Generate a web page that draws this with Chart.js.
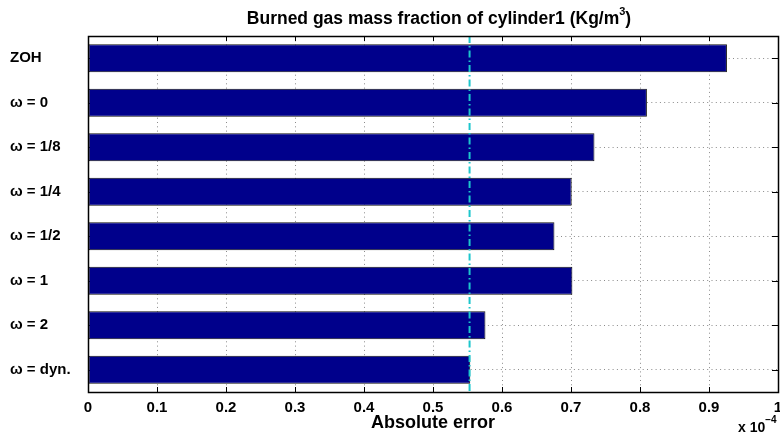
<!DOCTYPE html>
<html>
<head>
<meta charset="utf-8">
<script src="https://cdn.jsdelivr.net/npm/chart.js@4.4.0/dist/chart.umd.min.js"></script>
<style>
  html, body { margin: 0; padding: 0; background: #fff; }
</style>
</head>
<body>
<canvas id="barChart" width="780" height="437"></canvas>
<script>
// Absolute error per interpolation weight (values in units of 1e-4)
const categories = ["ZOH", "ω = 0", "ω = 1/8", "ω = 1/4", "ω = 1/2", "ω = 1", "ω = 2", "ω = dyn."];
const absError = [0.926, 0.810, 0.734, 0.701, 0.676, 0.702, 0.576, 0.554];
const refLine = 0.553;   // dash-dot reference line
const xMin = 0, xMax = 1, xStep = 0.1;

const FONT = "'Liberation Sans', Arial, sans-serif";

// grid, frame, inward ticks, reference line and extra texts, MATLAB style
const matlabAxes = {
  id: "matlabAxes",
  beforeDatasetsDraw(chart) {
    const { ctx, chartArea: a, scales: { x, y } } = chart;
    ctx.save();
    ctx.strokeStyle = "#000";
    ctx.lineWidth = 1;
    ctx.beginPath();
    x.ticks.forEach(t => {
      const px = Math.round(x.getPixelForValue(t.value)) + 0.5;
      ctx.moveTo(px, a.bottom); ctx.lineTo(px, a.bottom - 5);
      ctx.moveTo(px, a.top); ctx.lineTo(px, a.top + 5);
    });
    categories.forEach((c, i) => {
      const py = Math.round(y.getPixelForValue(i)) + 0.5;
      ctx.moveTo(a.right, py); ctx.lineTo(a.right - 6, py);
      ctx.moveTo(a.left, py); ctx.lineTo(a.left + 6, py);
    });
    ctx.stroke();
    ctx.restore();
  },
  afterDatasetsDraw(chart) {
    const { ctx, chartArea: a, scales: { x } } = chart;
    ctx.save();
    // reference line
    const rx = x.getPixelForValue(refLine);
    ctx.strokeStyle = "#1CC6CC";
    ctx.lineWidth = 2;
    ctx.setLineDash([7, 3, 1.5, 3]);
    ctx.beginPath();
    ctx.moveTo(rx, a.top); ctx.lineTo(rx, a.bottom);
    ctx.stroke();
    ctx.setLineDash([]);
    // frame
    ctx.strokeStyle = "#000";
    ctx.lineWidth = 1.5;
    ctx.strokeRect(Math.round(a.left) + 0.5, Math.round(a.top) + 0.5,
      Math.round(a.right - a.left), Math.round(a.bottom - a.top));
    // title
    ctx.fillStyle = "#000";
    ctx.textBaseline = "alphabetic";
    const main = "Burned gas mass fraction of cylinder1 (Kg/m";
    ctx.font = "bold 17.5px " + FONT;
    const w1 = ctx.measureText(main).width;
    ctx.font = "bold 11px " + FONT;
    const w2 = ctx.measureText("3").width;
    ctx.font = "bold 17.5px " + FONT;
    const w3 = ctx.measureText(")").width;
    let tx = (a.left + a.right) / 2 + 6 - (w1 + w2 + w3) / 2;
    ctx.textAlign = "left";
    ctx.fillText(main, tx, 24);
    ctx.font = "bold 11px " + FONT;
    ctx.fillText("3", tx + w1, 15);
    ctx.font = "bold 17.5px " + FONT;
    ctx.fillText(")", tx + w1 + w2, 24);
    // exponent label
    ctx.font = "bold 14px " + FONT;
    const ex = "x 10";
    const we = ctx.measureText(ex).width;
    ctx.fillText(ex, 738, 432);
    ctx.font = "bold 10px " + FONT;
    ctx.fillText("\u22124", 738 + we, 423);
    ctx.restore();
  }
};

new Chart(document.getElementById("barChart").getContext("2d"), {
  type: "bar",
  data: {
    labels: categories,
    datasets: [{
      data: absError,
      backgroundColor: "#00008B",
      borderColor: "#111",
      borderWidth: 1,
      borderSkipped: false,
      barPercentage: 0.63,
      categoryPercentage: 1
    }]
  },
  options: {
    indexAxis: "y",
    responsive: false,
    animation: false,
    devicePixelRatio: 1,
    layout: { padding: { left: 10, top: 36, right: 2, bottom: 0 } },
    plugins: {
      legend: { display: false },
      tooltip: { enabled: false },
      title: { display: false }
    },
    scales: {
      x: {
        min: xMin,
        max: xMax,
        afterFit: s => { s.height = 45; s.paddingLeft = 0; s.paddingRight = 0; },
        ticks: {
          stepSize: xStep,
          color: "#000",
          padding: 7,
          maxRotation: 0,
          font: { family: FONT, size: 15, weight: "bold" },
          callback: v => String(+v.toFixed(1))
        },
        grid: { color: "#8a8a8a", drawTicks: false, lineWidth: 1 },
        border: { display: false, dash: [1, 3.3] },
        title: {
          display: true,
          text: "Absolute error",
          color: "#000",
          padding: { top: 0, bottom: 3 },
          font: { family: FONT, size: 18, weight: "bold" }
        }
      },
      y: {
        afterFit: s => { s.width = 78; },
        ticks: {
          color: "#000",
          crossAlign: "far",
          font: { family: FONT, size: 15, weight: "bold" }
        },
        grid: { color: "#8a8a8a", drawTicks: false, offset: false, lineWidth: 1 },
        border: { display: false, dash: [1, 3.3] }
      }
    }
  },
  plugins: [matlabAxes]
});
</script>
</body>
</html>
